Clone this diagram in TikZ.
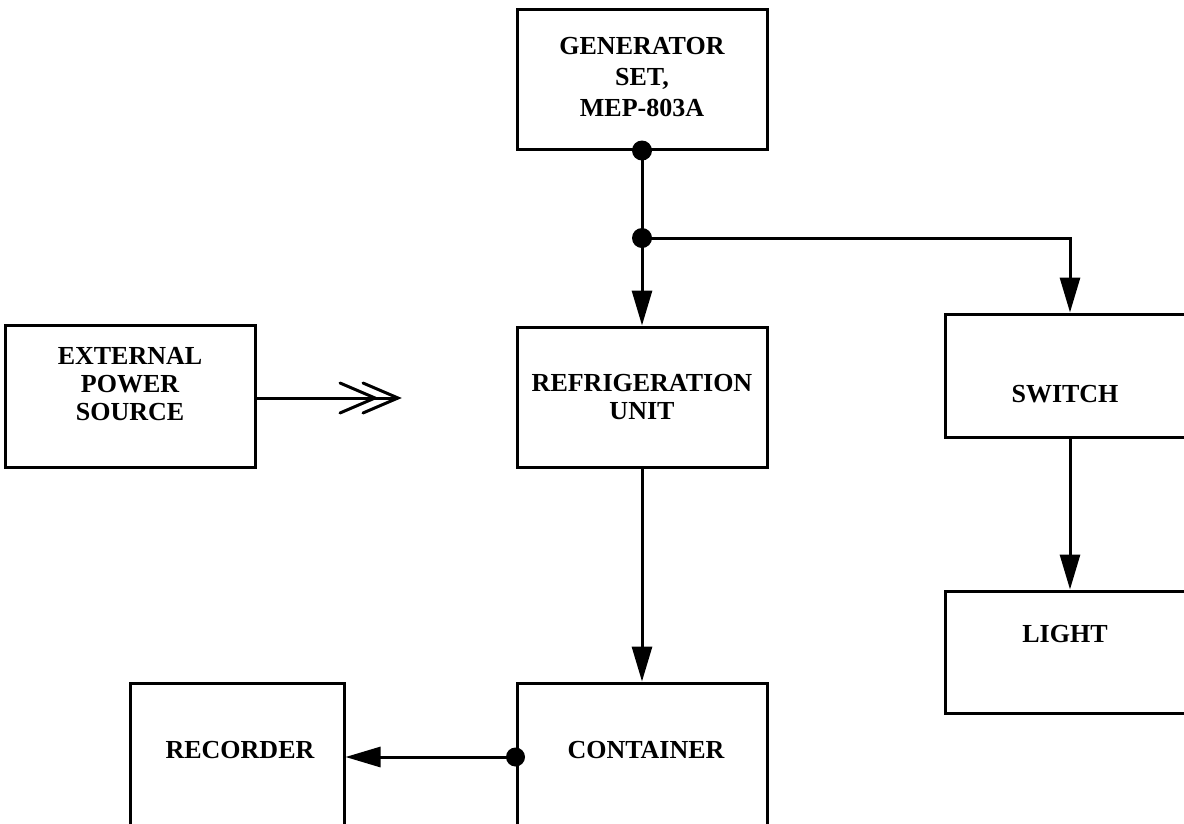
\documentclass[tikz,border=0pt]{standalone}
\usepackage{fontspec}
\setmainfont{Liberation Serif}
\usetikzlibrary{arrows.meta}
\begin{document}
\begin{tikzpicture}[x=1pt,y=-1pt,
  box/.style={draw,line width=3pt,minimum width=250pt,inner sep=0pt},
  lbl/.style={align=center,font=\bfseries\fontsize{26}{28}\selectfont,inner sep=0pt},
  conn/.style={line width=3pt},
  tri/.style={-{Triangle[length=35pt,width=20pt]}},
  dot/.style={fill=black}]
\useasboundingbox (0,0) rectangle (1184,823);
% boxes
\node[box,minimum height=140pt] (gen) at (642,79) {};
\node[box,minimum height=140pt] (ref) at (642,397) {};
\node[box,minimum height=142pt] (ext) at (130,396) {};
\node[box,minimum height=123pt] (sw) at (1070,375.5) {};
\node[box,minimum height=122pt] (li) at (1070,652) {};
\node[box,minimum height=148pt] (con) at (642,757) {};
\node[box,minimum width=214pt,minimum height=148pt] (rec) at (237,757) {};
% labels
\node[lbl,font=\bfseries\fontsize{26}{31}\selectfont] (genl) at (642,77) {GENERATOR\\SET,\\MEP-803A};
\node[lbl] (refl) at (642,397) {REFRIGERATION\\UNIT};
\node[lbl] (extl) at (130,384) {EXTERNAL\\POWER\\SOURCE};
\node[lbl] (swl) at (1065,394) {SWITCH};
\node[lbl] (lil) at (1065,634) {LIGHT};
\node[lbl] (conl) at (646,750) {CONTAINER};
\node[lbl] (recl) at (240,750) {RECORDER};
% connectors
\coordinate (j) at (642,238);
\coordinate (ep) at (398,398);
\draw[conn] (gen.south) -- (j);
\draw[conn,tri] (j) -- (ref.north);
\draw[conn,tri] (j) -| (sw.north);
\draw[conn,tri] (ref.south) -- (con.north);
\draw[conn,tri] (sw.south) -- (li.north);
\draw[conn,tri] (con.west) -- (rec.east);
\draw[conn] (ext.east |- ep) -- (ep);
\draw[conn,line cap=round] (ep) ++(-35,-15) -- (ep) -- ++(-35,15);
\draw[conn,line cap=round] (ep) ++(-58,-15) -- ++(35,15) -- ++(-35,15);
% dots
\fill[dot] (gen.south) circle (10);
\fill[dot] (j) circle (10);
\fill[dot] (con.west) circle (9.5);
\end{tikzpicture}
\end{document}
